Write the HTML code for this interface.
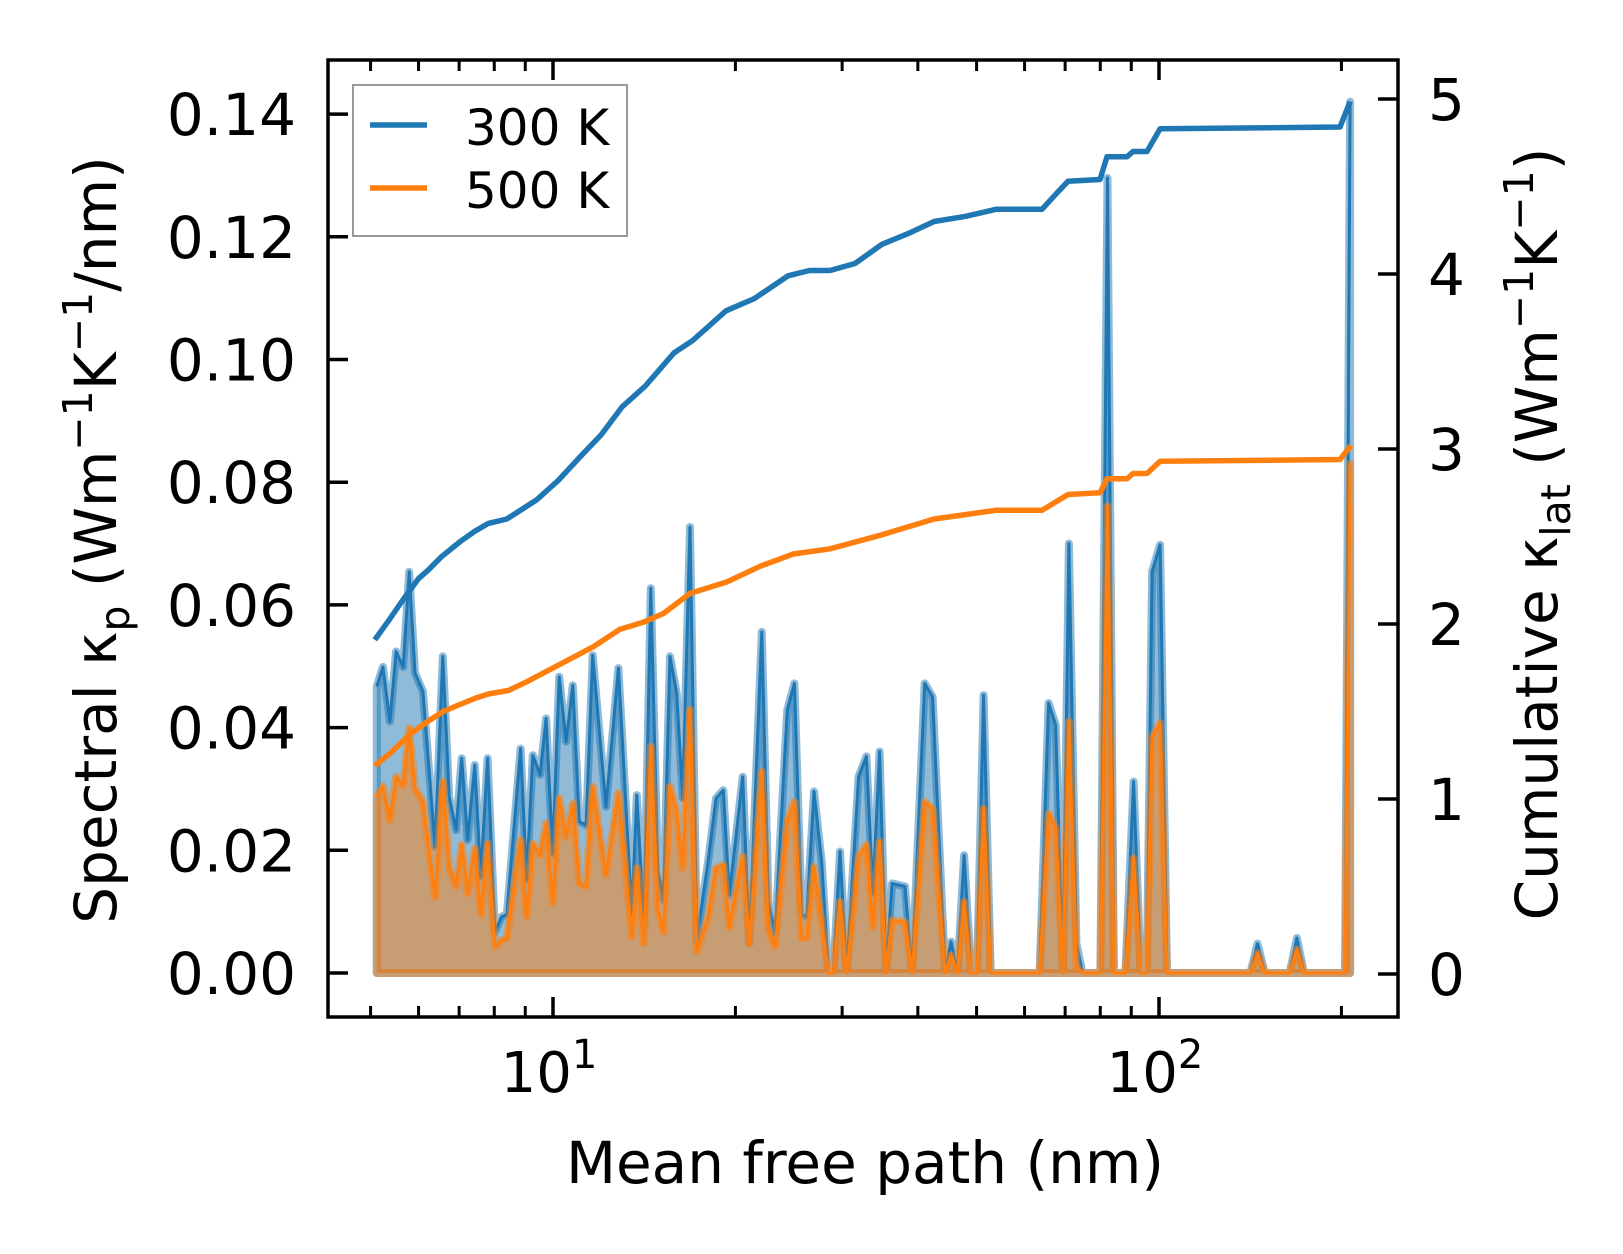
<!DOCTYPE html>
<html><head><meta charset="utf-8"><style>
html,body{margin:0;padding:0;background:#fff}
svg{display:block;font-family:"DejaVu Sans","Liberation Sans",sans-serif}
</style></head><body>
<svg id="chart" width="1623" height="1254" viewBox="0 0 1623 1254" xmlns="http://www.w3.org/2000/svg">
<rect width="1623" height="1254" fill="#fff"/>
<g id="plot"></g>
<g id="axes"></g>
</svg>
<script>
const mfp = [5.12,5.24,5.38,5.51,5.66,5.79,5.92,6.10,6.39,6.58,6.74,6.92,7.07,7.23,7.43,7.60,7.80,8.02,8.23,8.39,8.84,9.05,9.26,9.52,9.74,9.99,10.24,10.51,10.78,11.05,11.34,11.63,12.23,12.82,13.49,13.75,14.13,14.50,14.89,15.21,15.60,16.00,16.37,16.83,17.27,18.04,18.58,19.10,19.54,20.56,21.08,22.11,22.67,23.25,24.36,25.02,25.73,26.22,26.96,27.76,28.47,29.01,29.76,30.53,31.94,32.90,33.72,34.59,35.44,36.27,38.10,39.13,41.05,42.30,44.36,45.38,46.51,47.68,48.97,50.09,51.36,52.76,63.53,65.73,67.53,69.40,71.00,73.06,74.78,80.05,82.22,84.25,88.01,90.81,93.29,95.48,97.42,100.4,103.1,141.5,145.4,149.4,164.3,168.9,173.5,202.8,206.7];
const spec300 = [0.0467,0.0499,0.0410,0.0524,0.0499,0.0654,0.0489,0.0459,0.0206,0.0516,0.0287,0.0233,0.0350,0.0217,0.0339,0.0157,0.0350,0.0067,0.0092,0.0095,0.0366,0.0152,0.0355,0.0323,0.0415,0.0195,0.0483,0.0377,0.0469,0.0247,0.0241,0.0518,0.0271,0.0497,0.0097,0.0290,0.0078,0.0627,0.0168,0.0119,0.0516,0.0456,0.0285,0.0727,0.0054,0.0184,0.0285,0.0298,0.0127,0.0320,0.0048,0.0556,0.0116,0.0065,0.0429,0.0472,0.0095,0.0092,0.0296,0.0181,0,0,0.0198,0,0.0320,0.0353,0.0130,0.0361,0,0.0146,0.0141,0,0.0472,0.0450,0,0.0051,0,0.0192,0,0,0.0453,0,0,0.0440,0.0404,0,0.0700,0.0048,0,0,0.1296,0,0,0.0312,0,0,0.0654,0.0698,0,0,0.0048,0,0,0.0057,0,0,0.142];
const spec500 = [0.0287,0.0304,0.0249,0.0320,0.0306,0.0399,0.0301,0.0279,0.0124,0.0312,0.0173,0.0141,0.0209,0.0130,0.0203,0.0095,0.0211,0.0043,0.0054,0.0057,0.0217,0.0092,0.0211,0.0192,0.0244,0.0114,0.0285,0.0222,0.0277,0.0146,0.0141,0.0304,0.0160,0.0293,0.0059,0.0171,0.0048,0.0369,0.0105,0.0067,0.0304,0.0263,0.0171,0.0429,0.0035,0.0092,0.0171,0.0176,0.0075,0.0190,0.0048,0.0328,0.0070,0.0043,0.0249,0.0279,0.0057,0.0057,0.0173,0.0081,0,0,0.0116,0,0.0190,0.0209,0.0075,0.0214,0,0.0086,0.0083,0,0.0279,0.0268,0,0.0029,0,0.0116,0,0,0.0268,0,0,0.0260,0.0236,0,0.0410,0.0010,0,0,0.0761,0,0,0.0187,0,0,0.0385,0.0407,0,0,0.0032,0,0,0.0038,0,0,0.083];
const cumX300 = [5.08,5.38,5.66,6.00,6.23,6.55,7.02,7.43,7.82,8.39,8.93,9.40,10.2,11.12,12.0,13.00,14.2,15.84,17.0,19.30,21.5,24.42,26.5,28.65,31.5,34.91,38.5,42.54,48.0,53.83,64.12,68.12,70.76,79.92,82.08,88.55,90.59,95.54,100.4,198.9,206.7];
const cum300 = [1.91,2.03,2.14,2.26,2.31,2.385,2.47,2.53,2.575,2.60,2.66,2.71,2.82,2.96,3.08,3.24,3.36,3.55,3.62,3.79,3.86,3.99,4.02,4.02,4.06,4.17,4.23,4.30,4.33,4.37,4.37,4.47,4.53,4.54,4.67,4.67,4.70,4.70,4.83,4.84,4.985];
const cumX500 = [5.08,5.38,5.81,6.19,6.59,7.02,7.43,7.82,8.44,9.05,9.76,10.80,11.65,12.90,14.09,15.21,16.83,19.35,21.96,24.92,28.65,34.91,42.54,53.83,64.12,70.76,79.92,82.08,88.55,90.59,95.54,100.4,198.9,207.5];
const cum500 = [1.19,1.26,1.37,1.44,1.50,1.54,1.575,1.60,1.62,1.67,1.73,1.81,1.87,1.97,2.01,2.06,2.175,2.24,2.33,2.40,2.43,2.51,2.60,2.65,2.65,2.74,2.75,2.83,2.83,2.86,2.86,2.93,2.94,3.02];
const leftTicks = [0,0.02,0.04,0.06,0.08,0.10,0.12,0.14];
const leftTickLabels = ["0.00","0.02","0.04","0.06","0.08","0.10","0.12","0.14"];
const rightTicks = [0,1,2,3,4,5];
const xMajor = [10,100];
const xMinor = [5,6,7,8,9,20,30,40,50,60,70,80,90,200];

const L=328,R=1398,T=60,B=1017;
const X = m => 553 + 606*(Math.log10(m)-1);
const YL = v => 973 - 6135*v;
const YR = v => 974 - 175*v;
const NS="http://www.w3.org/2000/svg";
function mk(tag,attrs,parent){const e=document.createElementNS(NS,tag);for(const k in attrs)e.setAttribute(k,attrs[k]);parent.appendChild(e);return e;}
const plot=document.getElementById('plot'), axes=document.getElementById('axes');

function spectral(vals,color,name){
  let pts=mfp.map((m,i)=>X(m).toFixed(1)+','+YL(vals[i]).toFixed(1));
  let poly=pts.join(' ')+' '+X(mfp[mfp.length-1]).toFixed(1)+','+YL(0)+' '+X(mfp[0]).toFixed(1)+','+YL(0);
  const f=mk('polygon',{points:poly,fill:color,'fill-opacity':0.5,stroke:color,'stroke-opacity':0.5,'stroke-width':8,'stroke-linejoin':'round'},plot);
  
  
  const l=mk('polyline',{points:pts.join(' '),fill:'none',stroke:color,'stroke-width':3,'stroke-linejoin':'round'},plot);
  
  
}
spectral(spec300,'#1f77b4','spectral-300k');
spectral(spec500,'#ff7f0e','spectral-500k');

function cum(xs,vals,color,name){
  const pts=xs.map((m,i)=>X(m).toFixed(1)+','+YR(vals[i]).toFixed(1)).join(' ');
  const l=mk('polyline',{points:pts,fill:'none',stroke:color,'stroke-width':5.5,'stroke-linejoin':'round'},plot);
  
  
}
cum(cumX300,cum300,'#1f77b4','cumulative-300k');
cum(cumX500,cum500,'#ff7f0e','cumulative-500k');

const fr=mk('rect',{x:L,y:T,width:R-L,height:B-T,fill:'none',stroke:'#000','stroke-width':3.5},axes);



leftTicks.forEach((v,i)=>{
  const y=YL(v);
  const t=mk('line',{x1:L,x2:L+20,y1:y,y2:y,stroke:'#000','stroke-width':3.5},axes);
  
  
  const tx=mk('text',{x:296,y:y+21,'font-size':58,'text-anchor':'end',fill:'#000'},axes);
  tx.textContent=leftTickLabels[i];
  
  
});
rightTicks.forEach(v=>{
  const y=YR(v);
  const t=mk('line',{x1:R-20,x2:R,y1:y,y2:y,stroke:'#000','stroke-width':3.5},axes);
  
  
  const tx=mk('text',{x:1428,y:y+21,'font-size':58,fill:'#000'},axes);
  tx.textContent=String(v);
  
  
});
xMajor.forEach((m,i)=>{
  const x=X(m);
  [[B,B-20],[T,T+20]].forEach(p=>{
    const t=mk('line',{x1:x,x2:x,y1:p[0],y2:p[1],stroke:'#000','stroke-width':3.5},axes);
    
    
  });
  const tx=mk('text',{x:x-4,y:1092,'font-size':56,'text-anchor':'middle',fill:'#000'},axes);
  
  
  tx.innerHTML='10<tspan font-size="40" dy="-24">'+(i+1)+'</tspan>';
});
xMinor.forEach(m=>{
  const x=X(m);
  [[B,B-11],[T,T+11]].forEach(p=>{
    const t=mk('line',{x1:x,x2:x,y1:p[0],y2:p[1],stroke:'#000','stroke-width':3},axes);
    
    
  });
});
</script>
<div style="position:absolute;left:0;top:0;width:1623px;height:1254px;pointer-events:none">
<svg width="1623" height="1254" style="font-family:'DejaVu Sans','Liberation Sans',sans-serif">
  <g>
    <rect x="353" y="85" width="274" height="151" fill="#fff" fill-opacity="0.85" stroke="#999" stroke-width="2"/>
    <line x1="370" y1="125" x2="427" y2="125" stroke="#1f77b4" stroke-width="5.5"/>
    <text x="465" y="145" font-size="50">300 K</text>
    <line x1="370" y1="188" x2="427" y2="188" stroke="#ff7f0e" stroke-width="5.5"/>
    <text x="465" y="208" font-size="50">500 K</text>
  </g>
  <text x="865" y="1183" font-size="58" text-anchor="middle">Mean free path (nm)</text>
  <text transform="translate(116,540) rotate(-90)" font-size="58" text-anchor="middle">Spectral κ<tspan font-size="41" dy="13">p</tspan><tspan dy="-13"> (Wm</tspan><tspan font-size="41" dy="-24">−1</tspan><tspan dy="24">K</tspan><tspan font-size="41" dy="-24">−1</tspan><tspan dy="24">/nm)</tspan></text>
  <text transform="translate(1557,534) rotate(-90)" font-size="58" text-anchor="middle">Cumulative κ<tspan font-size="41" dy="13">lat</tspan><tspan dy="-13"> (Wm</tspan><tspan font-size="41" dy="-24">−1</tspan><tspan dy="24">K</tspan><tspan font-size="41" dy="-24">−1</tspan><tspan dy="24">)</tspan></text>
</svg>
</div>
</body></html>
